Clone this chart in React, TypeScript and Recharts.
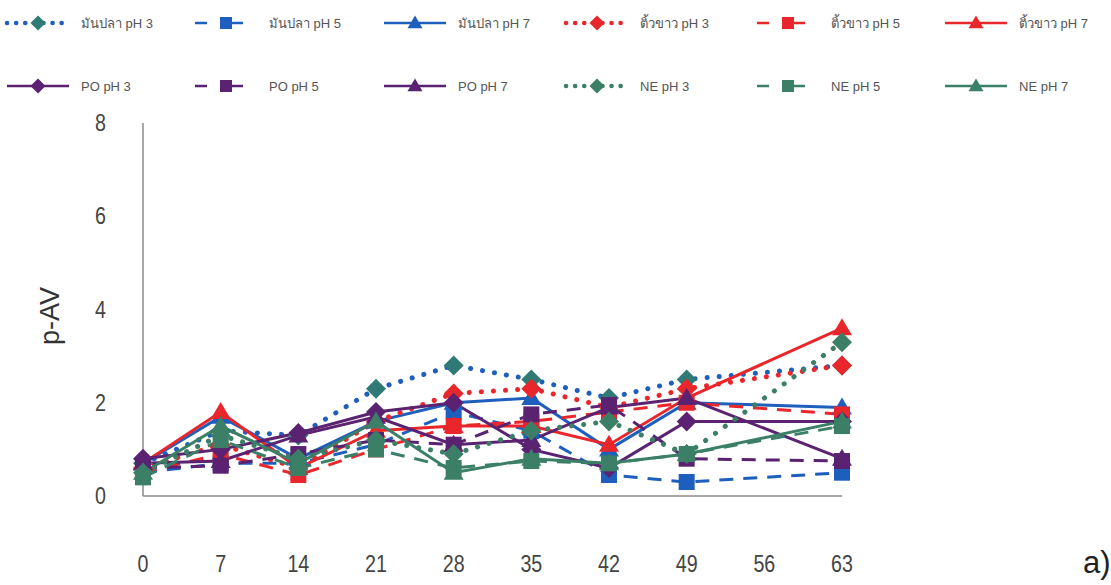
import React from 'react';
import { LineChart, Line, XAxis, YAxis } from 'recharts';

const days = ['0', '7', '14', '21', '28', '35', '42', '49', '56', '63'];

// p-AV values per series (56 has no measurement)
const manPla3 = [0.7, 1.4, 1.3, 2.3, 2.8, 2.5, 2.1, 2.5, null, 2.8];
const manPla5 = [0.5, 0.7, 0.7, 1.1, 1.8, 1.4, 0.45, 0.3, null, 0.5];
const manPla7 = [0.7, 1.7, 0.8, 1.6, 2.0, 2.1, 1.0, 2.0, null, 1.9];
const tiw3 = [0.6, 1.1, 0.6, 1.6, 2.2, 2.3, 1.9, 2.3, null, 2.8];
const tiw5 = [0.5, 0.9, 0.45, 1.0, 1.5, 1.6, 1.8, 2.0, null, 1.75];
const tiw7 = [0.7, 1.8, 0.6, 1.4, 1.5, 1.5, 1.1, 2.1, null, 3.6];
const po3 = [0.8, 1.0, 1.35, 1.8, 2.0, 1.0, 0.6, 1.6, null, 1.6];
const po5 = [0.6, 0.65, 0.9, 1.2, 1.1, 1.75, 1.95, 0.8, null, 0.75];
const po7 = [0.7, 0.75, 1.3, 1.7, 1.1, 1.2, 1.9, 2.1, null, 0.8];
const ne3 = [0.5, 1.3, 0.8, 1.2, 0.9, 1.4, 1.6, 0.9, null, 3.3];
const ne5 = [0.4, 1.2, 0.6, 1.0, 0.6, 0.75, 0.7, 0.9, null, 1.5];
const ne7 = [0.5, 1.5, 0.7, 1.6, 0.5, 0.8, 0.7, 0.9, null, 1.6];

const yTicks = [0, 2, 4, 6, 8];

const BLUE = '#1e5fbd';
const TEAL = '#2f7a74';
const RED = '#e8262b';
const PURPLE = '#5a2270';
const GREEN = '#3a7f66';

type Kind = 'dot' | 'dash' | 'solid';
type Shape = 'diamond' | 'square' | 'triangle';

const series: { key: string; name: string; values: (number | null)[]; color: string; fill: string; kind: Kind; shape: Shape }[] = [
  { key: 'mp3', name: 'มันปลา pH 3', values: manPla3, color: BLUE, fill: TEAL, kind: 'dot', shape: 'diamond' },
  { key: 'mp5', name: 'มันปลา pH 5', values: manPla5, color: BLUE, fill: BLUE, kind: 'dash', shape: 'square' },
  { key: 'mp7', name: 'มันปลา pH 7', values: manPla7, color: BLUE, fill: BLUE, kind: 'solid', shape: 'triangle' },
  { key: 'tw3', name: 'ติ้วขาว pH 3', values: tiw3, color: RED, fill: RED, kind: 'dot', shape: 'diamond' },
  { key: 'tw5', name: 'ติ้วขาว pH 5', values: tiw5, color: RED, fill: RED, kind: 'dash', shape: 'square' },
  { key: 'tw7', name: 'ติ้วขาว pH 7', values: tiw7, color: RED, fill: RED, kind: 'solid', shape: 'triangle' },
  { key: 'po3', name: 'PO pH 3', values: po3, color: PURPLE, fill: PURPLE, kind: 'solid', shape: 'diamond' },
  { key: 'po5', name: 'PO pH 5', values: po5, color: PURPLE, fill: PURPLE, kind: 'dash', shape: 'square' },
  { key: 'po7', name: 'PO pH 7', values: po7, color: PURPLE, fill: PURPLE, kind: 'solid', shape: 'triangle' },
  { key: 'ne3', name: 'NE pH 3', values: ne3, color: GREEN, fill: GREEN, kind: 'dot', shape: 'diamond' },
  { key: 'ne5', name: 'NE pH 5', values: ne5, color: GREEN, fill: GREEN, kind: 'dash', shape: 'square' },
  { key: 'ne7', name: 'NE pH 7', values: ne7, color: GREEN, fill: GREEN, kind: 'solid', shape: 'triangle' },
];

const data = days.map((d, i) => {
  const row: Record<string, any> = { day: d };
  series.forEach((s) => { row[s.key] = s.values[i]; });
  return row;
});

const lineStyle = (kind: Kind) => {
  if (kind === 'dot') return { strokeWidth: 5, strokeDasharray: '0.1 12', strokeLinecap: 'round' as const };
  if (kind === 'dash') return { strokeWidth: 3, strokeDasharray: '14 10', strokeLinecap: 'butt' as const };
  return { strokeWidth: 3, strokeDasharray: undefined, strokeLinecap: 'butt' as const };
};

function Marker({ cx, cy, shape, color, size = 1 }: { cx: number; cy: number; shape: Shape; color: string; size?: number }) {
  if (cx == null || cy == null || isNaN(cx) || isNaN(cy)) return null;
  if (shape === 'diamond') {
    const r = 10 * size;
    return <polygon points={`${cx},${cy - r} ${cx + r},${cy} ${cx},${cy + r} ${cx - r},${cy}`} fill={color} />;
  }
  if (shape === 'square') {
    const r = 8 * size;
    return <rect x={cx - r} y={cy - r} width={r * 2} height={r * 2} fill={color} />;
  }
  const r = 10 * size;
  return <polygon points={`${cx},${cy - r} ${cx + r},${cy + r * 0.7} ${cx - r},${cy + r * 0.7}`} fill={color} />;
}

const legendCols = [7, 195, 384, 566, 757, 945];
const legendRows = [23, 86];

function LegendBox() {
  return (
    <svg width={1111} height={110} style={{ position: 'absolute', left: 0, top: 0 }}>
      {series.map((s, i) => {
        const x0 = legendCols[i % 6];
        const y = legendRows[Math.floor(i / 6)];
        const st = lineStyle(s.kind);
        const len = 62;
        return (
          <g key={s.key}>
            <line x1={x0} y1={y} x2={x0 + len} y2={y} stroke={s.color} strokeWidth={st.strokeWidth - 0.5}
              strokeDasharray={s.kind === 'dot' ? '0.1 9' : s.kind === 'dash' ? '12 24' : undefined} strokeLinecap={st.strokeLinecap} />
            <Marker cx={x0 + len / 2} cy={y} shape={s.shape} color={s.fill} size={0.75} />
            <text x={x0 + len + 12} y={y + 5} fontSize={13} fill="#555" fontFamily="'Liberation Sans', 'Noto Sans', sans-serif">{s.name}</text>
          </g>
        );
      })}
    </svg>
  );
}

const XTick = (props: any) => (
  <g transform={`translate(${props.x},572) scale(0.82,1)`}>
    <text x={0} y={0} textAnchor="middle" fontSize={24} fill="#444" fontFamily="'Liberation Sans', sans-serif">
      {props.payload.value}
    </text>
  </g>
);

const YTick = (props: any) => (
  <g transform={`translate(106,${props.y + 8}) scale(0.82,1)`}>
    <text x={0} y={0} textAnchor="end" fontSize={24} fill="#444" fontFamily="'Liberation Sans', sans-serif">
      {props.payload.value}
    </text>
  </g>
);

export default function App() {
  return (
    <div style={{ position: 'absolute', left: 0, top: 0, width: 1111, height: 585, background: '#fff' }}>
      <LegendBox />
      <div style={{ position: 'absolute', left: 0, top: 0 }}>
        <LineChart width={1111} height={585} data={data} margin={{ top: 123, right: 269, left: 0, bottom: 0 }}>
          <XAxis dataKey="day" height={89} tickLine={false} axisLine={{ stroke: '#8a8a8a', strokeWidth: 1.5 }}
            tick={<XTick />} interval={0} padding={{ left: 0, right: 0 }} />
          <YAxis width={143} domain={[0, 8]} ticks={yTicks} tickLine={false}
            axisLine={{ stroke: '#8a8a8a', strokeWidth: 1.5 }} tick={<YTick />} />
          {series.map((s) => {
            const st = lineStyle(s.kind);
            return (
              <Line key={s.key} dataKey={s.key} name={s.name} stroke={s.color} strokeWidth={st.strokeWidth}
                strokeDasharray={st.strokeDasharray} strokeLinecap={st.strokeLinecap} connectNulls
                isAnimationActive={false}
                dot={(p: any) => <Marker key={`${s.key}-${p.index}`} cx={p.cx} cy={p.cy} shape={s.shape} color={s.fill} />}
                activeDot={false} />
            );
          })}
        </LineChart>
      </div>
      <div style={{ position: 'absolute', left: 30, top: 316, transform: 'translate(-50%, -50%) rotate(-90deg)', fontSize: 27, color: '#333', fontFamily: "'Liberation Sans', sans-serif", whiteSpace: 'nowrap', marginLeft: 20 }}>
        p-AV
      </div>
      <div style={{ position: 'absolute', left: 1083, top: 545, fontSize: 31, color: '#222', fontFamily: "'Liberation Sans', sans-serif" }}>
        a)
      </div>
    </div>
  );
}
